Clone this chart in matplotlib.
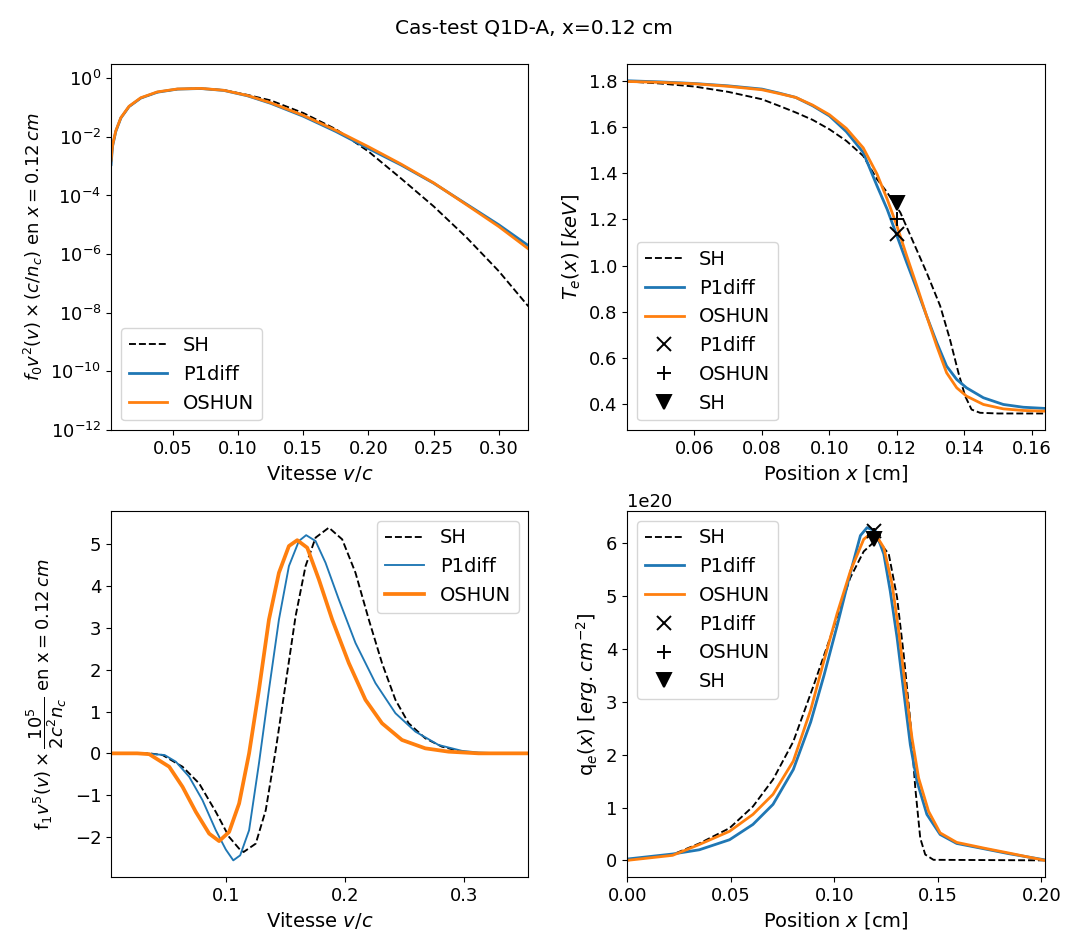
import numpy as np
import matplotlib
matplotlib.use('Agg')
import matplotlib.pyplot as plt

plt.rcParams['font.size'] = 13
plt.rcParams['axes.labelsize'] = 14
plt.rcParams['legend.fontsize'] = 14
plt.rcParams['mathtext.fontset'] = 'dejavusans'

# --- f0 v^2 (log10 values) ---
v0 = [0.0025, 0.0036, 0.0061, 0.010, 0.0163, 0.0253, 0.038, 0.0534, 0.0713,
      0.0891, 0.107, 0.125, 0.15, 0.175, 0.20, 0.225, 0.25, 0.275, 0.30, 0.3227]
f0_sh = [-2.85, -2.31, -1.81, -1.36, -0.97, -0.68, -0.48, -0.375, -0.354,
         -0.41, -0.57, -0.76, -1.19, -1.74, -2.50, -3.42, -4.37, -5.42, -6.58, -7.78]
f0_p1 = [-2.95, -2.33, -1.82, -1.36, -0.97, -0.68, -0.48, -0.375, -0.354,
         -0.42, -0.60, -0.86, -1.30, -1.82, -2.40, -2.96, -3.58, -4.29, -5.00, -5.71]
f0_osh = [-2.80, -2.30, -1.80, -1.35, -0.96, -0.67, -0.47, -0.37, -0.35,
          -0.415, -0.59, -0.84, -1.27, -1.78, -2.34, -2.93, -3.57, -4.31, -5.06, -5.82]

# --- Te(x) ---
xT = [0.0401, 0.05, 0.06, 0.07, 0.08, 0.085, 0.09, 0.095, 0.10, 0.105, 0.11,
      0.1141, 0.1171, 0.12, 0.1229, 0.1259, 0.1288, 0.1318, 0.1347, 0.1377,
      0.1406, 0.1456, 0.1515, 0.1574, 0.1637]
Te_p1 = [1.80, 1.795, 1.788, 1.778, 1.764, 1.747, 1.728, 1.692, 1.648, 1.58,
         1.49, 1.345, 1.244, 1.129, 1.013, 0.898, 0.782, 0.667, 0.566, 0.508,
         0.472, 0.429, 0.40, 0.388, 0.383]
Te_osh = [1.797, 1.793, 1.787, 1.776, 1.761, 1.745, 1.728, 1.695, 1.653, 1.594,
          1.51, 1.396, 1.288, 1.172, 1.042, 0.912, 0.782, 0.652, 0.537, 0.472,
          0.436, 0.40, 0.381, 0.374, 0.371]
xT_sh = [0.0401, 0.05, 0.06, 0.07, 0.08, 0.085, 0.09, 0.095, 0.10, 0.105, 0.11,
         0.1141, 0.1171, 0.121, 0.1249, 0.1288, 0.1328, 0.1357, 0.1382, 0.1402,
         0.1421, 0.1446, 0.15, 0.1637]
Te_sh = [1.797, 1.788, 1.775, 1.752, 1.72, 1.692, 1.663, 1.631, 1.59, 1.54,
         1.475, 1.374, 1.317, 1.23, 1.10, 0.97, 0.826, 0.681, 0.537, 0.436,
         0.378, 0.364, 0.361, 0.361]
Te_pts = {'P1diff': 1.136, 'OSHUN': 1.20, 'SH': 1.273}

# --- f1 v^5 ---
v1_sh = [0.003, 0.035, 0.0463, 0.0631, 0.0771, 0.0911, 0.1023, 0.1107, 0.1145,
         0.1247, 0.1331, 0.1415, 0.1499, 0.1582, 0.1666, 0.175, 0.1862, 0.1974,
         0.2086, 0.2198, 0.2309, 0.2422, 0.2533, 0.2673, 0.2813, 0.2981,
         0.3121, 0.33, 0.354]
f1_sh = [0, 0, -0.04, -0.32, -0.72, -1.40, -2.0, -2.28, -2.36, -2.16, -1.36,
         0.08, 1.68, 3.28, 4.48, 5.16, 5.40, 5.12, 4.32, 3.2, 2.16, 1.28, 0.72,
         0.36, 0.16, 0.04, 0.0, 0, 0]
v1_p1 = [0.003, 0.0306, 0.048, 0.0575, 0.0687, 0.0799, 0.0911, 0.0995, 0.1058,
         0.1116, 0.1191, 0.1274, 0.1358, 0.1442, 0.1526, 0.161, 0.1671, 0.175,
         0.1834, 0.1946, 0.2086, 0.2254, 0.2422, 0.259, 0.2785, 0.2981, 0.3121,
         0.33, 0.354]
f1_p1 = [0, 0, -0.04, -0.20, -0.56, -1.12, -1.84, -2.30, -2.56, -2.44, -1.84,
         -0.24, 1.52, 3.2, 4.48, 5.08, 5.22, 5.08, 4.56, 3.68, 2.64, 1.68, 0.96,
         0.52, 0.2, 0.06, 0.02, 0, 0]
v1_osh = [0.003, 0.025, 0.0351, 0.0519, 0.0631, 0.0743, 0.0855, 0.0939, 0.1023,
          0.1107, 0.1191, 0.1274, 0.1358, 0.1442, 0.1526, 0.1596, 0.168, 0.1778,
          0.189, 0.203, 0.217, 0.2309, 0.2477, 0.2673, 0.2869, 0.3121, 0.354]
f1_osh = [0, 0, -0.02, -0.32, -0.80, -1.40, -1.92, -2.10, -1.88, -1.20, 0.0,
          1.52, 3.2, 4.32, 4.96, 5.10, 4.92, 4.16, 3.2, 2.16, 1.28, 0.72, 0.32,
          0.12, 0.04, 0.0, 0]

# --- qe(x), units of 1e20 ---
xq_sh = [0.0, 0.0219, 0.0348, 0.0494, 0.0607, 0.0704, 0.0802, 0.0899, 0.0996,
         0.1077, 0.1142, 0.1206, 0.1263, 0.1303, 0.1335, 0.1367, 0.1391,
         0.1415, 0.1439, 0.1479, 0.2015]
q_sh = [0.0, 0.11, 0.32, 0.61, 1.02, 1.53, 2.25, 3.3, 4.4, 5.35, 5.85, 6.08,
        5.80, 4.98, 3.90, 2.64, 1.37, 0.42, 0.11, 0.01, 0.0]
xq_p1 = [0.0, 0.0219, 0.0348, 0.0494, 0.0607, 0.0704, 0.0802, 0.0886, 0.095,
         0.1014, 0.1078, 0.1126, 0.1158, 0.1198, 0.1239, 0.127, 0.1303, 0.1335,
         0.1367, 0.1399, 0.1447, 0.1511, 0.1591, 0.1709, 0.1838, 0.2015]
q_p1 = [0.025, 0.12, 0.2, 0.39, 0.68, 1.06, 1.72, 2.62, 3.5, 4.45, 5.45, 6.15,
        6.30, 6.24, 5.80, 5.10, 4.22, 3.20, 2.19, 1.50, 0.87, 0.49, 0.32, 0.23,
        0.13, 0.01]
xq_osh = [0.0, 0.0219, 0.0348, 0.0494, 0.0607, 0.0704, 0.0802, 0.0886, 0.095,
          0.1014, 0.1078, 0.1142, 0.119, 0.1239, 0.1279, 0.1311, 0.1342, 0.1375,
          0.1407, 0.1455, 0.1511, 0.1591, 0.1725, 0.1854, 0.2015]
q_osh = [0.0, 0.095, 0.3, 0.55, 0.87, 1.25, 1.88, 2.85, 3.78, 4.68, 5.48, 6.08,
         6.23, 5.92, 5.23, 4.34, 3.33, 2.32, 1.56, 0.93, 0.52, 0.34, 0.23, 0.13,
         0.0]
q_pts = {'P1diff': 6.24, 'OSHUN': 6.16, 'SH': 6.08}

x_pt = 0.12
xq_pt = 0.119
mk = {'P1diff': 'x', 'OSHUN': '+', 'SH': 'v'}
blue = '#1f77b4'
orange = '#ff7f0e'


def add_markers(ax, xp, vals, scale=1.0):
  for name in ['P1diff', 'OSHUN', 'SH']:
    ax.plot(xp, vals[name]*scale, mk[name], color='k', ms=10, mew=1.4,
            label=name, linestyle='None')


fig, axs = plt.subplots(2, 2, figsize=(10.68, 9.43), dpi=100)
fig.subplots_adjust(left=0.104, right=0.978, top=0.932, bottom=0.070,
                    wspace=0.237, hspace=0.221)
fig.suptitle('Cas-test Q1D-A, x=0.12 cm', fontsize=14.5)

# f0 v^2
ax = axs[0, 0]
ax.semilogy(v0, 10**np.array(f0_sh), 'k--', lw=1.35, label='SH')
ax.semilogy(v0, 10**np.array(f0_p1), color=blue, lw=2.0, label='P1diff')
ax.semilogy(v0, 10**np.array(f0_osh), color=orange, lw=2.0, label='OSHUN')
ax.set_xlim(v0[0], v0[-1])
ax.set_ylim(1e-12, 3)
ax.set_yticks([10.0**k for k in range(-12, 1, 2)])
ax.minorticks_off()
ax.set_xlabel('Vitesse $v/c$')
ax.set_ylabel(r'$f_0v^2(v)\times(c/n_c)$ en $x=0.12\,cm$', fontsize=13)
ax.legend(loc='lower left')

# Te
ax = axs[0, 1]
ax.plot(xT_sh, Te_sh, 'k--', lw=1.35, label='SH')
ax.plot(xT, Te_p1, color=blue, lw=2.0, label='P1diff')
ax.plot(xT, Te_osh, color=orange, lw=2.0, label='OSHUN')
add_markers(ax, x_pt, Te_pts)
ax.set_xlim(xT[0], xT[-1])
ax.set_xticks([0.06, 0.08, 0.10, 0.12, 0.14, 0.16])
ax.set_xlabel('Position $x$ [cm]')
ax.set_ylabel(r'$T_e(x)\ [keV]$')
ax.legend(loc='lower left')

# f1 v^5
ax = axs[1, 0]
ax.plot(v1_sh, f1_sh, 'k--', lw=1.35, label='SH')
ax.plot(v1_p1, f1_p1, color=blue, lw=1.35, label='P1diff')
ax.plot(v1_osh, f1_osh, color=orange, lw=2.7, label='OSHUN')
ax.set_xlim(0.003, 0.354)
ax.set_xticks([0.1, 0.2, 0.3])
ax.set_xlabel('Vitesse $v/c$')
ax.set_ylabel(r'$\mathrm{f}_1v^5(v)\times\dfrac{10^5}{2c^2n_c}$ en $\mathrm{x}=0.12\,cm$',
              fontsize=13)
ax.legend(loc='upper right')

# qe
ax = axs[1, 1]
ax.plot(xq_sh, np.array(q_sh)*1e20, 'k--', lw=1.35, label='SH')
ax.plot(xq_p1, np.array(q_p1)*1e20, color=blue, lw=2.0, label='P1diff')
ax.plot(xq_osh, np.array(q_osh)*1e20, color=orange, lw=2.0, label='OSHUN')
add_markers(ax, xq_pt, q_pts, 1e20)
ax.set_xlim(0, 0.2015)
ax.set_xlabel('Position $x$ [cm]')
ax.set_ylabel(r'q$_e(x)$ $[erg.cm^{-2}]$')
ax.legend(loc='upper left')

plt.savefig('out.png', dpi=100)
